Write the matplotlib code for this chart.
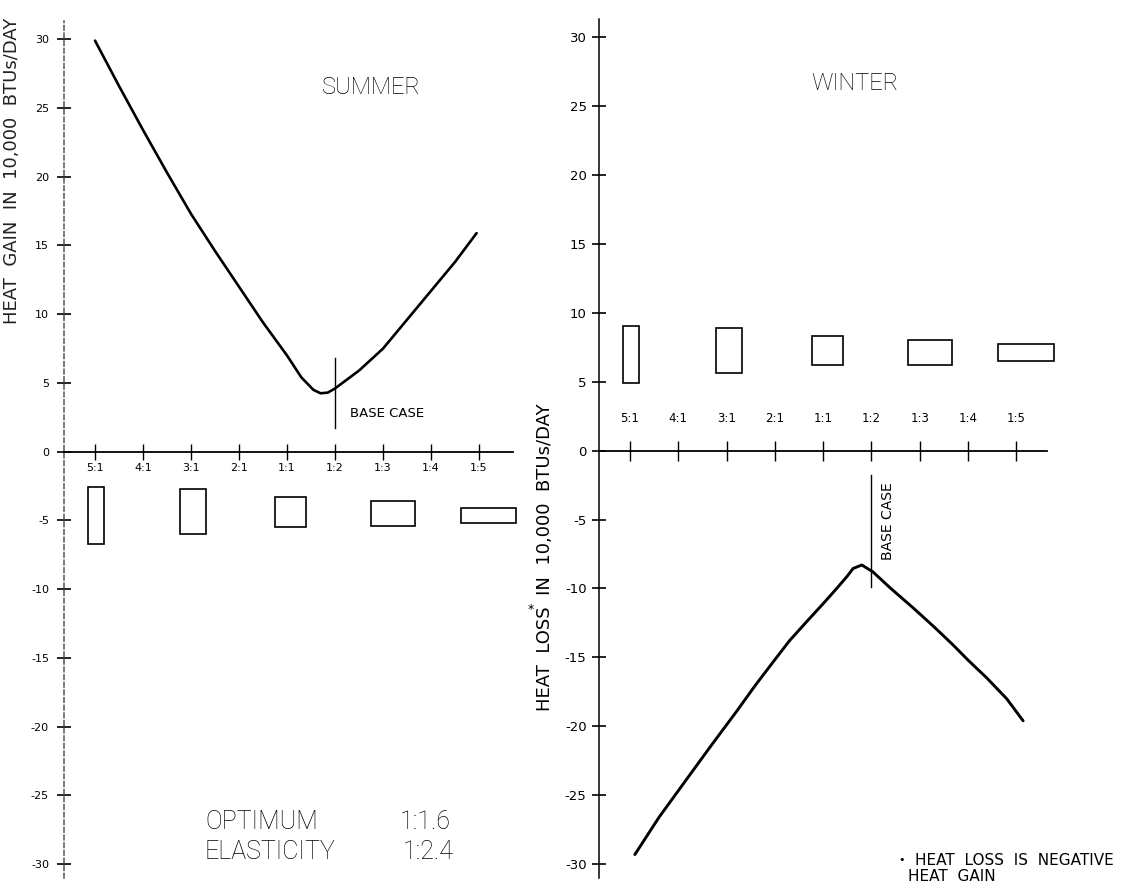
#!/usr/bin/env python3
"""Summer heat gain / winter heat loss against building aspect ratio."""

import matplotlib
matplotlib.use("Agg")
import matplotlib.pyplot as plt
from matplotlib.patches import Rectangle

plt.rcParams['font.family'] = ['DejaVu Sans']
plt.rcParams['axes.unicode_minus'] = False

RATIOS = ['5:1', '4:1', '3:1', '2:1', '1:1', '1:2', '1:3', '1:4', '1:5']
Y_TICKS = [30, 25, 20, 15, 10, 5, 0, -5, -10, -15, -20, -25, -30]

# curves, x in ratio-axis units (0 = 5:1 ... 8 = 1:5)
SUMMER_X = [0.0, 0.5, 1.0, 1.5, 2.0, 2.5, 3.0, 3.5, 4.0, 4.3, 4.55, 4.7,
            4.85, 5.0, 5.5, 6.0, 6.5, 7.0, 7.5, 7.95]
SUMMER_GAIN = [29.9, 26.6, 23.4, 20.3, 17.3, 14.6, 12.0, 9.4, 7.0, 5.4, 4.5,
               4.25, 4.3, 4.6, 5.9, 7.5, 9.6, 11.7, 13.8, 15.9]

WINTER_X = [0.1, 0.6, 1.18, 1.7, 2.21, 2.6, 2.97, 3.3, 3.66, 4.0, 4.28,
            4.5, 4.62, 4.8, 5.03, 5.4, 5.86, 6.3, 6.69, 7.0, 7.39, 7.8, 8.14]
WINTER_LOSS = [-29.3, -26.6, -23.8, -21.3, -18.9, -17.0, -15.3, -13.8,
               -12.4, -11.1, -10.0, -9.1, -8.55, -8.3, -8.8, -10.0, -11.4,
               -12.8, -14.1, -15.2, -16.5, -18.0, -19.6]

BASE_CASE_X = 5.0

# building plan boxes (x extents in ratio units, y extents in chart units)
BOX_X0 = [-0.15, 1.78, 3.76, 5.75, 7.62]
BOX_X1 = [0.19, 2.31, 4.4, 6.67, 8.77]
SUMMER_BOX_TOP = [-2.6, -2.7, -3.3, -3.6, -4.1]
SUMMER_BOX_BOT = [-6.7, -6.0, -5.5, -5.4, -5.2]
WINTER_BOX_TOP = [9.0, 8.9, 8.3, 8.0, 7.7]
WINTER_BOX_BOT = [4.9, 5.6, 6.2, 6.2, 6.5]

OPTIMUM = '1:1.6'
ELASTICITY = '1:2.4'

W, H = 1125, 888
LIGHT = dict(family='Roboto', weight='light')


def setup_axes(ax, left_dashed, labelsize, pad):
    ax.set_ylim(-31, 31.3)
    for s in ('top', 'right'):
        ax.spines[s].set_visible(False)
    ax.spines['bottom'].set_position(('data', 0))
    ax.spines['bottom'].set_linewidth(1.3)
    ax.spines['left'].set_linewidth(1.1)
    if left_dashed:
        ax.spines['left'].set_linestyle((0, (3, 2)))
        ax.spines['left'].set_color('#555555')
    ax.set_yticks(Y_TICKS)
    ax.set_yticklabels([str(v) for v in Y_TICKS])
    ax.set_xticks(range(len(RATIOS)))
    ax.tick_params(axis='y', direction='inout', length=10, width=1.2,
                   labelsize=labelsize, pad=pad)
    ax.tick_params(axis='x', direction='inout', length=12, width=1.0)


def draw_boxes(ax, tops, bots):
    for x0, x1, t, b in zip(BOX_X0, BOX_X1, tops, bots):
        ax.add_patch(Rectangle((x0, b), x1 - x0, t - b, fill=False,
                               edgecolor='black', linewidth=1.2,
                               clip_on=False))


fig = plt.figure(figsize=(W / 100, H / 100), dpi=100)

# ---- summer ----
ax1 = fig.add_axes([64.3 / W, 10.1 / H, 448.3 / W, 856.5 / H])
ax1.set_xlim(-0.64, 8.7)
setup_axes(ax1, left_dashed=True, labelsize=8, pad=6)
ax1.set_xticklabels(RATIOS, fontsize=8)
ax1.tick_params(axis='x', pad=2)
ax1.plot(SUMMER_X, SUMMER_GAIN, color='black', linewidth=1.9,
         solid_capstyle='round', solid_joinstyle='round')
ax1.plot([BASE_CASE_X, BASE_CASE_X], [1.7, 6.8], color='black', linewidth=1.0)
ax1.text(5.31, 2.75, 'BASE CASE', fontsize=9.5, va='center', ha='left')
draw_boxes(ax1, SUMMER_BOX_TOP, SUMMER_BOX_BOT)
ax1.text(5.75, 26.5, 'SUMMER', fontsize=17, ha='center', va='center', **LIGHT)
ax1.text(2.29, -26.9, 'OPTIMUM', fontsize=18, ha='left', va='center', **LIGHT)
ax1.text(6.35, -26.9, OPTIMUM, fontsize=18, ha='left', va='center', **LIGHT)
ax1.text(2.29, -29.1, 'ELASTICITY', fontsize=18, ha='left', va='center',
         clip_on=False, **LIGHT)
ax1.text(6.42, -29.1, ELASTICITY, fontsize=18, ha='left', va='center',
         clip_on=False, **LIGHT)
ax1.set_ylabel('HEAT  GAIN  IN  10,000  BTUs/DAY', fontsize=13,
               color='#222222')
ax1.yaxis.set_label_coords(-0.097, 0.825)

# ---- winter ----
ax2 = fig.add_axes([599.1 / W, 10.0 / H, 447.7 / W, 859.0 / H])
ax2.set_xlim(-0.64, 8.63)
setup_axes(ax2, left_dashed=False, labelsize=9.5, pad=4)
ax2.tick_params(axis='x', labelbottom=False, length=14)
for i, r in enumerate(RATIOS):
    ax2.text(i, 2.3, r, fontsize=8.5, ha='center', va='center')
ax2.plot(WINTER_X, WINTER_LOSS, color='black', linewidth=2.1,
         solid_capstyle='round', solid_joinstyle='round')
ax2.plot([BASE_CASE_X, BASE_CASE_X], [-1.8, -9.9], color='black', linewidth=1.0)
ax2.text(5.34, -5.1, 'BASE CASE', fontsize=10, rotation=90,
         ha='center', va='center')
draw_boxes(ax2, WINTER_BOX_TOP, WINTER_BOX_BOT)
ax2.text(4.66, 26.6, 'WINTER', fontsize=17, ha='center', va='center', **LIGHT)
ax2.set_ylabel('HEAT  LOSS  IN  10,000  BTUs/DAY', fontsize=13)
ax2.yaxis.set_label_coords(-0.1, 0.374)
ax2.text(-0.152, 0.312, '*', transform=ax2.transAxes, fontsize=9,
         ha='center', va='center')
ax2.text(5.63, -29.7, '•', fontsize=8, ha='center', va='center', clip_on=False)
ax2.text(5.9, -29.7, 'HEAT  LOSS  IS  NEGATIVE', fontsize=11, ha='left',
         va='center', clip_on=False)
ax2.text(5.75, -30.9, 'HEAT  GAIN', fontsize=11, ha='left', va='center',
         clip_on=False)

fig.savefig('out.png', dpi=100)
print('Saved to out.png')
